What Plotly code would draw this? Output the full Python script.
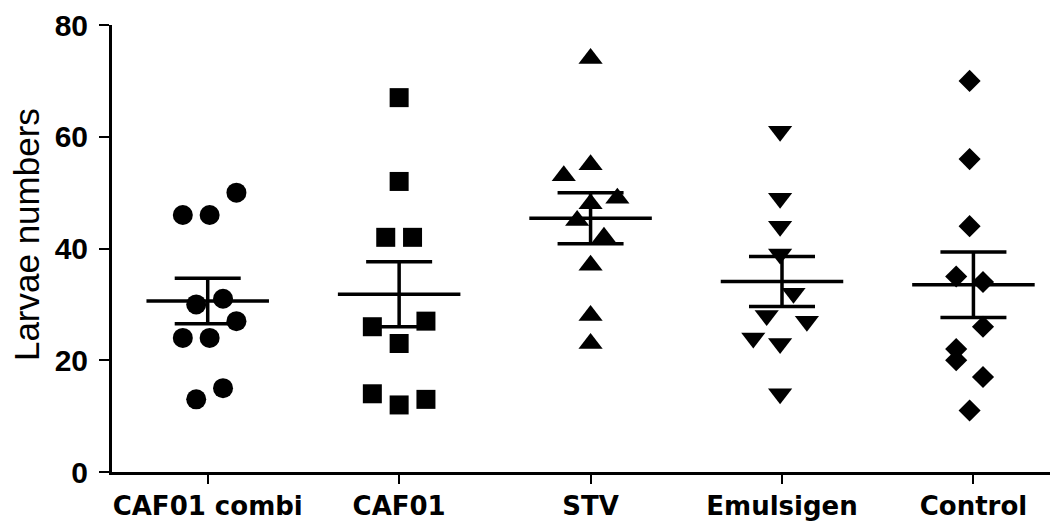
import numpy as np
import plotly.graph_objects as go

# ---- data ----
categories = ["CAF01 combi", "CAF01", "STV", "Emulsigen", "Control"]
caf01_combi = [50, 46, 46, 30, 31, 27, 24, 24, 13, 15]
caf01 = [67, 52, 42, 42, 26, 27, 23, 14, 12, 13]
stv = [74, 55, 53, 49, 48, 45, 42, 37, 28, 23]
emulsigen = [61, 49, 44, 39, 32, 28, 27, 24, 23, 14]
control = [70, 56, 44, 35, 34, 26, 22, 20, 17, 11]
y_ticks = [0, 20, 40, 60, 80]
y_title = "Larvae numbers"

# ---- styling (horizontal scatter of points within each column) ----
series = [caf01_combi, caf01, stv, emulsigen, control]
symbols = ["circle", "square", "triangle-up", "triangle-down", "diamond"]
sizes = [20, 19, 21, 21, 17]
jitter = [
    [0.14, -0.14, 0, -0.07, 0.07, 0.14, -0.14, 0, -0.07, 0.07],
    [0, 0, -0.07, 0.07, -0.14, 0.14, 0, -0.14, 0, 0.14],
    [0, 0, -0.14, 0.14, 0, -0.07, 0.07, 0, 0, 0],
    [0, 0, 0, 0, 0.07, -0.07, 0.14, -0.14, 0, 0],
    [0, 0, 0, -0.07, 0.07, 0.07, -0.07, -0.07, 0.07, 0],
]
center_shift = [0.01, 0, 0, -0.01, -0.02]

fig = go.Figure()

for i, (vals, sym, sz, jit) in enumerate(zip(series, symbols, sizes, jitter)):
    xs = [i + center_shift[i] + j for j in jit]
    fig.add_trace(go.Scatter(
        x=xs, y=vals, mode="markers",
        marker=dict(symbol=sym, size=sz, color="black", line=dict(width=0)),
        showlegend=False, hoverinfo="y",
    ))

for i, vals in enumerate(series):
    arr = np.array(vals, dtype=float)
    mean = arr.mean()
    sem = arr.std(ddof=1) / np.sqrt(len(arr))
    # mean line
    fig.add_trace(go.Scatter(
        x=[i - 0.32, i + 0.32], y=[mean, mean], mode="lines",
        line=dict(color="black", width=3.5), showlegend=False, hoverinfo="skip",
    ))
    # SEM error bar
    fig.add_trace(go.Scatter(
        x=[i], y=[mean], mode="markers",
        marker=dict(size=0.1, color="rgba(0,0,0,0)"),
        error_y=dict(type="data", array=[sem], visible=True,
                     color="black", thickness=3.5, width=33),
        showlegend=False, hoverinfo="skip",
    ))

fig.update_layout(
    width=1053, height=523,
    margin=dict(l=112, r=3, t=25, b=51, autoexpand=False),
    paper_bgcolor="white", plot_bgcolor="white",
    font=dict(family="Liberation Sans, Arial, sans-serif", color="black"),
    annotations=[dict(
        text=y_title, textangle=-90, showarrow=False,
        xref="paper", yref="paper", x=0, y=0.53,
        xanchor="center", yanchor="middle", xshift=-86,
        font=dict(size=35, family="Liberation Sans, Arial, sans-serif", color="black"),
    )],
)
fig.update_xaxes(
    range=[-0.5, 4.4], automargin=False,
    tickmode="array", tickvals=list(range(len(categories))), ticktext=categories,
    tickfont=dict(size=26, family="DejaVu Sans, sans-serif", weight="bold"),
    ticklabelstandoff=0,
    showline=True, linecolor="black", linewidth=3,
    ticks="outside", ticklen=9, tickwidth=2, tickcolor="black",
    showgrid=False, zeroline=False,
)
fig.update_yaxes(
    range=[0, 80], automargin=False,
    tickmode="array", tickvals=y_ticks,
    tickfont=dict(size=30, family="Liberation Sans, Arial, sans-serif", weight="bold"),
    ticklabelstandoff=5,
    showline=True, linecolor="black", linewidth=3,
    ticks="outside", ticklen=10, tickwidth=2, tickcolor="black",
    showgrid=False, zeroline=False,
)

fig.write_html("out.html", config={"displayModeBar": False})

# remove the browser's default 8px body margin so the figure fills the window
with open("out.html", "r", encoding="utf-8") as f:
    html = f.read()
html = html.replace("<head>", "<head><style>html,body{margin:0;padding:0;overflow:hidden;}</style>", 1)
with open("out.html", "w", encoding="utf-8") as f:
    f.write(html)
